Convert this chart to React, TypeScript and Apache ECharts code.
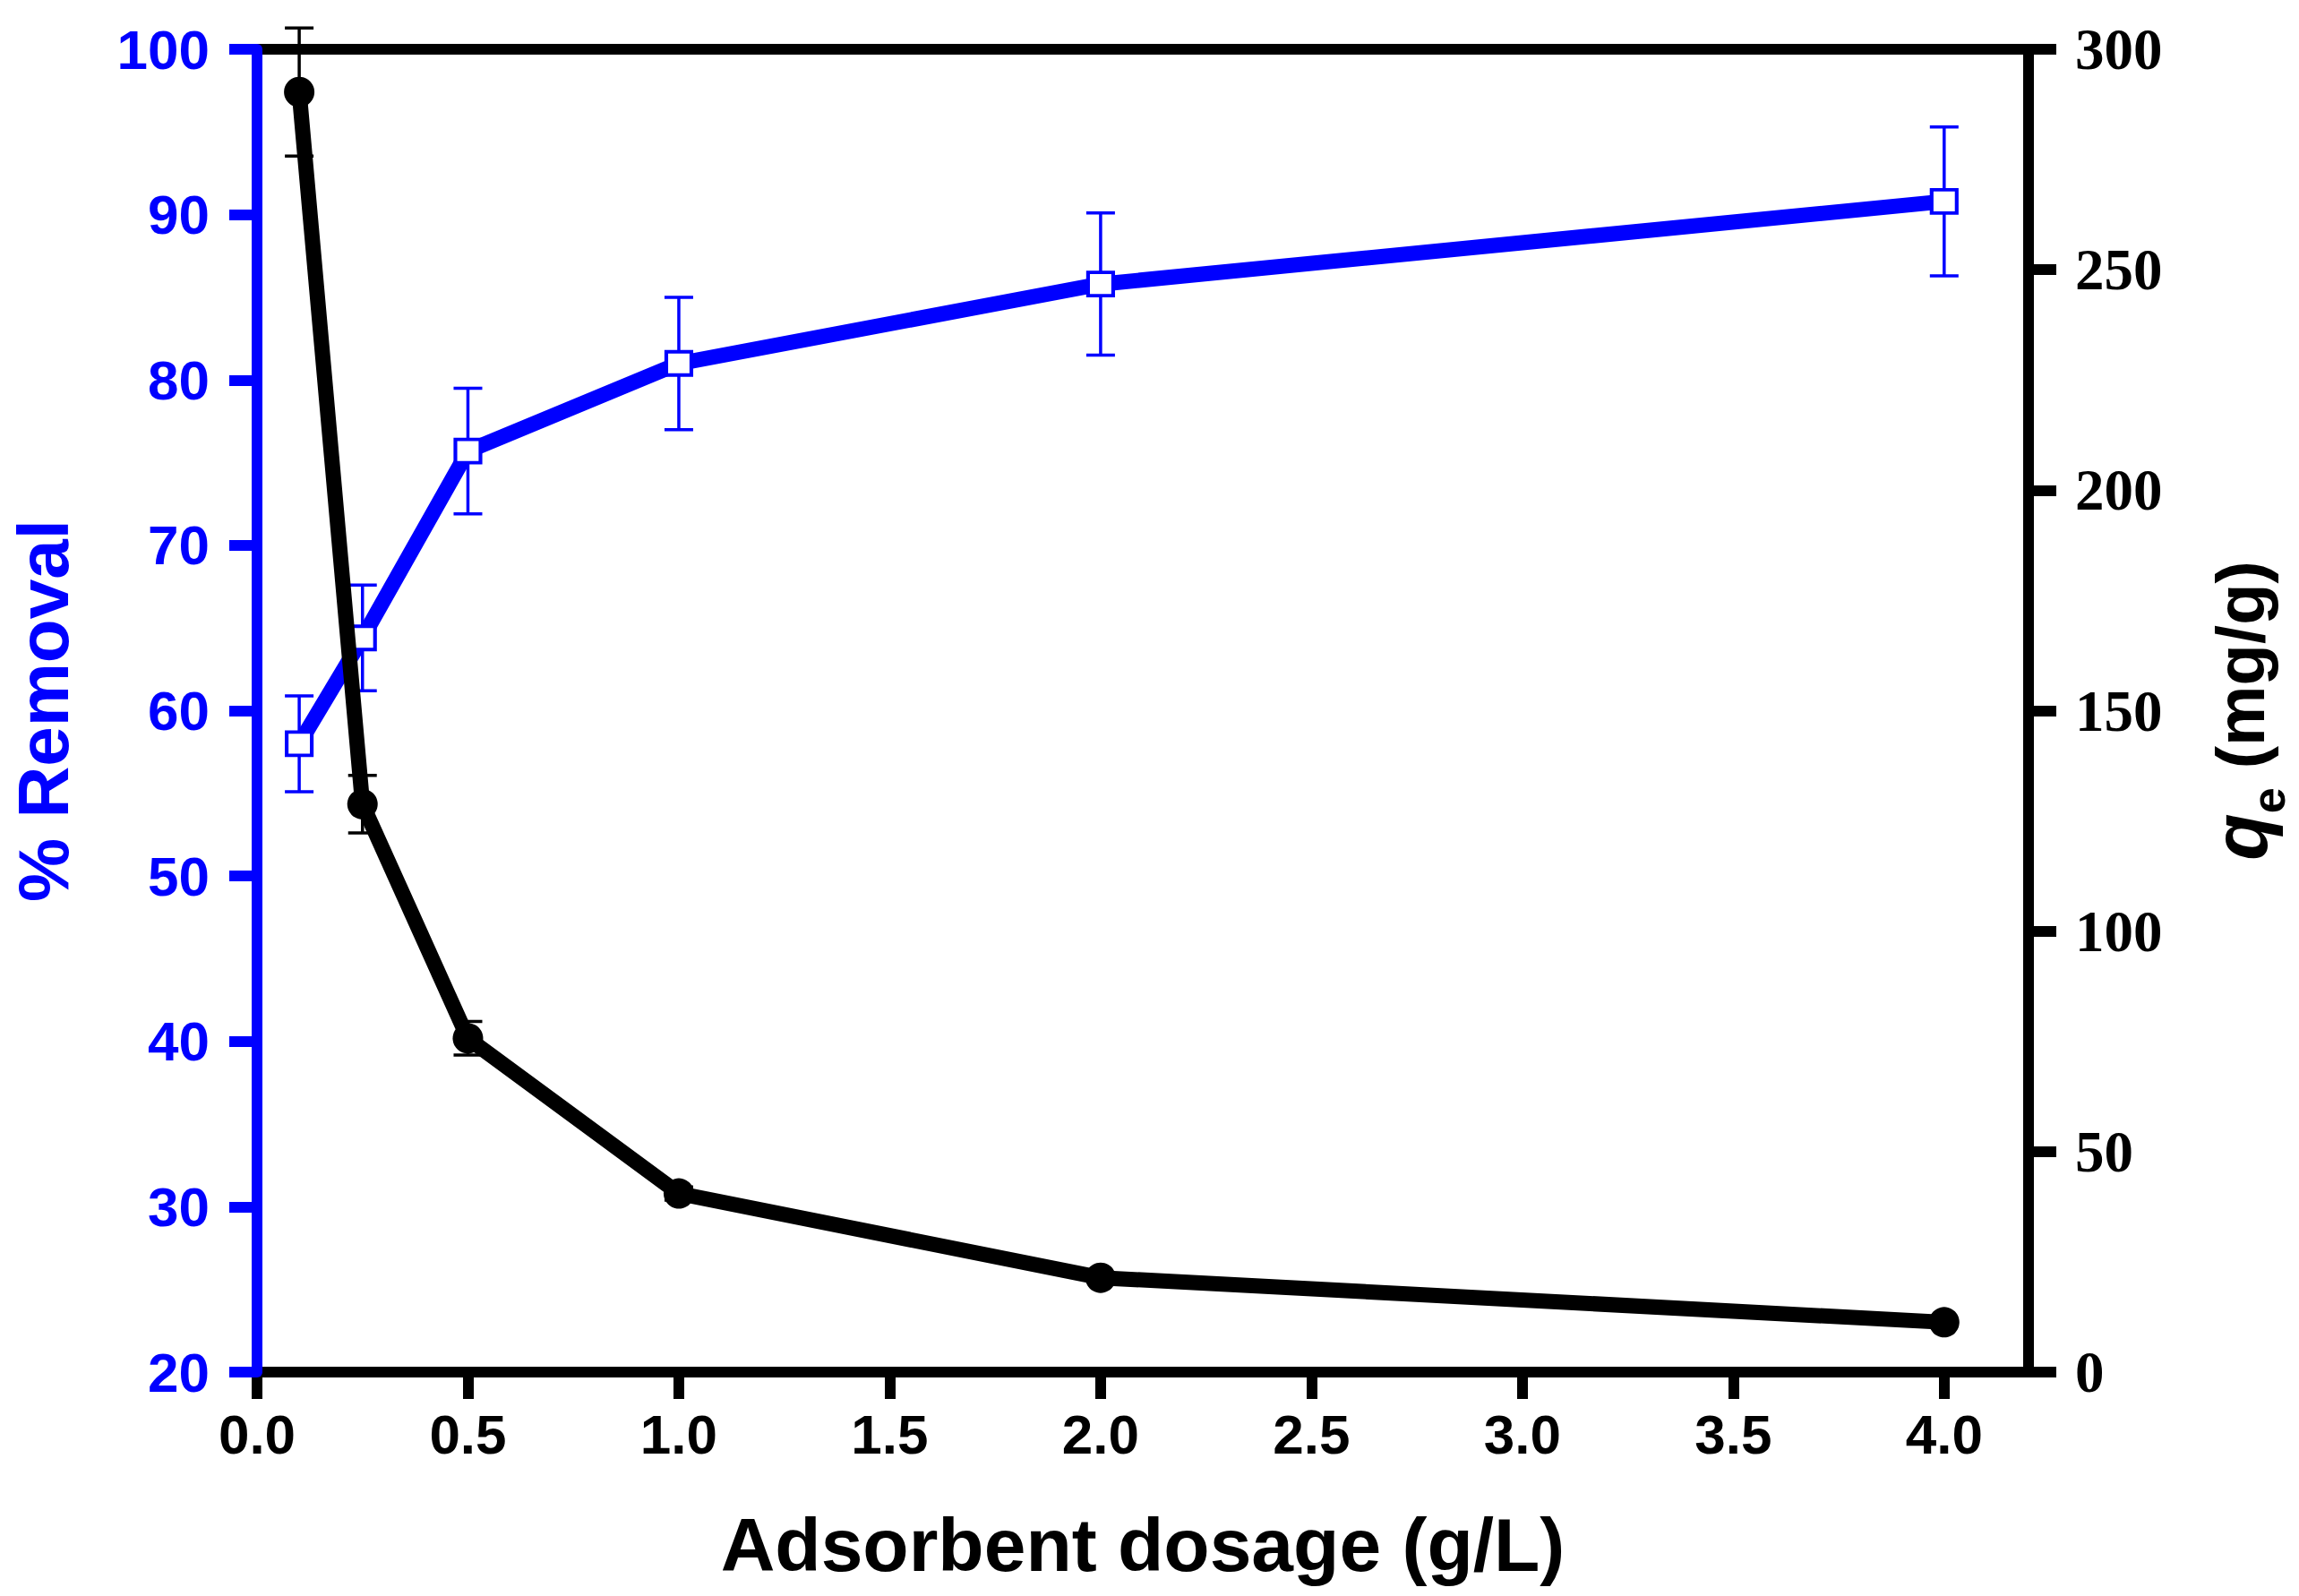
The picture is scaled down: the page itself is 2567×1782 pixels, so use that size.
import React, { useEffect, useRef } from "react";
import * as echarts from "echarts";

// adsorbent dosage (g/L)
const dosage = [0.1, 0.25, 0.5, 1.0, 2.0, 4.0];
// % removal and its error
const removal = [58.0, 64.4, 75.7, 81.0, 85.8, 90.8];
const removalErr = [2.9, 3.2, 3.8, 4.0, 4.3, 4.5];
// qe (mg/g) and its error
const qe = [290.3, 128.8, 75.7, 40.5, 21.4, 11.3];
const qeErr = [14.5, 6.5, 3.8, 1.5, 1.0, 0.8];

const xTicks = [0, 0.5, 1.0, 1.5, 2.0, 2.5, 3.0, 3.5, 4.0];

const BLUE = "#0000ff";
const SANS = "Liberation Sans, Arial, sans-serif";
const SERIF = "Liberation Serif, Times New Roman, serif";

const errorBars = (
  values: number[],
  errs: number[],
  color: string,
  yAxisIndex: number,
  z: number
) => ({
  type: "custom",
  xAxisIndex: 0,
  yAxisIndex,
  z,
  clip: false,
  silent: true,
  data: dosage.map((x, i) => [x, values[i] - errs[i], values[i] + errs[i]]),
  encode: { x: 0, y: [1, 2] },
  renderItem: (_params: any, api: any) => {
    const x = api.value(0);
    const lo = api.coord([x, api.value(1)]);
    const hi = api.coord([x, api.value(2)]);
    const half = 16;
    const style = { stroke: color, lineWidth: 3.5 };
    return {
      type: "group",
      children: [
        { type: "line", shape: { x1: lo[0], y1: lo[1], x2: hi[0], y2: hi[1] }, style },
        { type: "line", shape: { x1: lo[0] - half, y1: lo[1], x2: lo[0] + half, y2: lo[1] }, style },
        { type: "line", shape: { x1: hi[0] - half, y1: hi[1], x2: hi[0] + half, y2: hi[1] }, style },
      ],
    };
  },
});

const App: React.FC = () => {
  const chartRef = useRef<HTMLDivElement>(null);

  useEffect(() => {
    if (!chartRef.current) return;
    const chart = echarts.init(chartRef.current, undefined, { renderer: "svg" });

    const option = {
      animation: false,
      backgroundColor: "#ffffff",
      grid: { left: 285, right: 295, top: 55, bottom: 250, containLabel: false },
      xAxis: [
        {
          type: "value",
          position: "bottom",
          min: 0,
          max: 4.2,
          z: 1,
          name: "Adsorbent dosage (g/L)",
          nameLocation: "middle",
          nameGap: 151,
          nameTextStyle: { fontFamily: SANS, fontWeight: "bold", fontSize: 84, color: "#000" },
          axisLine: { onZero: false, lineStyle: { color: "#000", width: 12 } },
          axisTick: { length: 30, lineStyle: { color: "#000", width: 12 }, customValues: xTicks },
          axisLabel: {
            customValues: xTicks,
            margin: 38,
            fontFamily: SANS,
            fontWeight: "bold",
            fontSize: 62,
            color: "#000",
            formatter: (v: number) => v.toFixed(1),
          },
          splitLine: { show: false },
        },
        {
          type: "value",
          position: "top",
          min: 0,
          max: 4.2,
          z: 1,
          axisLine: { onZero: false, lineStyle: { color: "#000", width: 12 } },
          axisTick: { show: false },
          axisLabel: { show: false },
          splitLine: { show: false },
        },
      ],
      yAxis: [
        {
          type: "value",
          position: "left",
          min: 20,
          max: 100,
          interval: 10,
          z: 3,
          name: "% Removal",
          nameLocation: "middle",
          nameGap: 199,
          nameTextStyle: { fontFamily: SANS, fontWeight: "bold", fontSize: 80, color: BLUE },
          axisLine: { show: true, onZero: false, lineStyle: { color: BLUE, width: 12 } },
          axisTick: { show: true, length: 31, lineStyle: { color: BLUE, width: 12 } },
          axisLabel: { margin: 53, fontFamily: SANS, fontWeight: "bold", fontSize: 62, color: BLUE },
          splitLine: { show: false },
        },
        {
          type: "value",
          position: "right",
          min: 0,
          max: 300,
          interval: 50,
          z: 2,
          name: "{q|q}{e|e}{n| (mg/g)}",
          nameLocation: "middle",
          nameGap: 178,
          nameTextStyle: {
            color: "#000",
            rich: {
              q: { fontFamily: SANS, fontWeight: "bold", fontStyle: "italic", fontSize: 86, color: "#000" },
              e: { fontFamily: SANS, fontWeight: "bold", fontSize: 52, color: "#000", verticalAlign: "bottom", lineHeight: 116 },
              n: { fontFamily: SANS, fontWeight: "bold", fontSize: 76, color: "#000" },
            },
          },
          axisLine: { show: true, onZero: false, lineStyle: { color: "#000", width: 12 } },
          axisTick: { show: true, length: 31, lineStyle: { color: "#000", width: 12 } },
          axisLabel: { margin: 52, fontFamily: SERIF, fontWeight: "bold", fontSize: 65, color: "#000" },
          splitLine: { show: false },
        },
      ],
      series: [
        errorBars(removal, removalErr, BLUE, 0, 2),
        {
          type: "line",
          name: "% Removal",
          xAxisIndex: 0,
          yAxisIndex: 0,
          z: 3,
          clip: false,
          data: dosage.map((x, i) => [x, removal[i]]),
          symbol: "rect",
          symbolSize: [28, 26],
          itemStyle: { color: "#ffffff", borderColor: BLUE, borderWidth: 4 },
          lineStyle: { color: BLUE, width: 17, cap: "round" },
        },
        errorBars(qe, qeErr, "#000", 1, 4),
        {
          type: "line",
          name: "qe",
          xAxisIndex: 0,
          yAxisIndex: 1,
          z: 5,
          clip: false,
          data: dosage.map((x, i) => [x, qe[i]]),
          symbol: "circle",
          symbolSize: 34,
          itemStyle: { color: "#000" },
          lineStyle: { color: "#000", width: 17, cap: "round" },
        },
      ],
    };

    chart.setOption(option as any);
    return () => {
      chart.dispose();
    };
  }, []);

  return (
    <div
      ref={chartRef}
      style={{ position: "absolute", left: 0, top: 0, width: 2567, height: 1782 }}
    />
  );
};

export default App;
